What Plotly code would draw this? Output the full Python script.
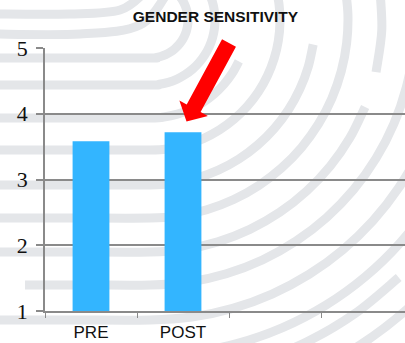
import math
import plotly.graph_objects as go

# Survey scores
categories = ["PRE", "POST"]
scores = [3.58, 3.72]
spare_slots = [" ", "  "]          # empty category slots on the axis
y_ticks = [1, 2, 3, 4, 5]
chart_title = "GENDER SENSITIVITY"

W, H = 405, 343
L, R, T, B = 45, 0, 48, 32
PW, PH = W - L - R, H - T - B


def to_paper(x, y):
    return (x - L) / PW, (H - B - y) / PH


def spline_path(pts):
    """Catmull-Rom spline through pixel points, as an SVG path in paper units."""
    p = [to_paper(*q) for q in pts]
    p = [p[0]] + p + [p[-1]]
    d = "M %.4f %.4f" % p[1]
    for i in range(1, len(p) - 2):
        p0, p1, p2, p3 = p[i - 1], p[i], p[i + 1], p[i + 2]
        c1 = (p1[0] + (p2[0] - p0[0]) / 6, p1[1] + (p2[1] - p0[1]) / 6)
        c2 = (p2[0] - (p3[0] - p1[0]) / 6, p2[1] - (p3[1] - p1[1]) / 6)
        d += " C %.4f %.4f %.4f %.4f %.4f %.4f" % (c1 + c2 + p2)
    return d


# Fingerprint-style ridges: loops around a core, straight tails to the left
CX, CY = 150.0, 20.0


def ridge(r, a_from, a_to, tail_from=None):
    pts = []
    if tail_from is not None:
        pts += [(tail_from, CY + r), ((tail_from + CX) / 2, CY + r)]
    steps = max(2, int(abs(a_from - a_to) / 8))
    for k in range(steps + 1):
        a = math.radians(a_from + (a_to - a_from) * k / steps)
        pts.append((CX + r * math.cos(a), CY + r * math.sin(a)))
    return pts


ridges = [
    [(-10, 14), (70, 14), (120, 10), (145, -8)],
    [(-10, 34), (80, 34), (140, 25), (168, -8)],
    ridge(38, 90, -40, tail_from=-10),
    ridge(65, 90, -25, tail_from=-10),
    ridge(98, 90, 25, tail_from=-10),
    ridge(130, 90, -15, tail_from=-10),
    ridge(165, 90, 8.5, tail_from=-10),
    ridge(198, 90, -10, tail_from=-10),
    ridge(232, 90, 22, tail_from=-10),
    ridge(232, 13, -8),
    ridge(265, 90, -2, tail_from=25),
    ridge(300, 90, 10, tail_from=-10),
    ridge(335, 100, 25),
    ridge(358, 100, 46),
    ridge(387, 100, 40),
]

shapes = []
for pts in ridges:
    shapes.append(dict(type="path", xref="paper", yref="paper", layer="below",
                       path=spline_path(pts),
                       line=dict(color="#e4e6e9", width=9)))

# Red pointer arrow aimed at the POST bar
tail, tip = (229.0, 43.0), (186.5, 121.5)
dx, dy = tip[0] - tail[0], tip[1] - tail[1]
ln = (dx * dx + dy * dy) ** 0.5
ux, uy = dx / ln, dy / ln
nx, ny = -uy, ux
shaft_hw, head_hw, head_len = 7.9, 16.2, 15.0
bx, by = tip[0] - ux * head_len, tip[1] - uy * head_len
arrow_px = [
    (tail[0] + nx * shaft_hw, tail[1] + ny * shaft_hw),
    (bx + nx * shaft_hw, by + ny * shaft_hw),
    (bx + nx * head_hw, by + ny * head_hw),
    tip,
    (bx - nx * head_hw, by - ny * head_hw),
    (bx - nx * shaft_hw, by - ny * shaft_hw),
    (tail[0] - nx * shaft_hw, tail[1] - ny * shaft_hw),
]
arrow_path = "M " + " L ".join("%.4f %.4f" % to_paper(*q) for q in arrow_px) + " Z"
shapes.append(dict(type="path", xref="paper", yref="paper", layer="above",
                   path=arrow_path, fillcolor="#ff0000", line=dict(width=0)))

fig = go.Figure(go.Bar(
    x=categories, y=scores, width=0.4,
    marker=dict(color="#33b5ff", line=dict(width=0)),
    hoverinfo="skip",
))

fig.update_layout(
    width=W, height=H,
    margin=dict(l=L, r=R, t=T, b=B, pad=0),
    paper_bgcolor="white",
    plot_bgcolor="rgba(0,0,0,0)",
    showlegend=False,
    shapes=shapes,
    title=dict(text="<b>%s</b>" % chart_title, x=215.5 / W, xref="container",
               xanchor="center", y=1 - 17 / H, yref="container", yanchor="middle",
               font=dict(family="Liberation Sans, Arial", size=15.5, color="#111111")),
)

fig.update_xaxes(
    type="category",
    categoryorder="array", categoryarray=categories + spare_slots,
    range=[-0.5, -0.5 + PW / 92.0],
    tickson="boundaries", ticks="outside", ticklen=5, tickcolor="#8a8a8a",
    showgrid=False, showline=True, linecolor="#8a8a8a", linewidth=1.5,
    tickfont=dict(family="Liberation Sans, Arial", size=17, color="#111111"),
    ticklabelstandoff=5,
    zeroline=False,
)

fig.update_yaxes(
    range=[1, 5], tickvals=y_ticks,
    ticks="outside", ticklen=7, tickcolor="#8a8a8a", tickwidth=1.5,
    showgrid=True, gridcolor="#8a8a8a", gridwidth=1.5,
    showline=True, linecolor="#8a8a8a", linewidth=1.5,
    tickfont=dict(family="Liberation Serif, Times New Roman", size=22, color="#111111"),
    ticklabelstandoff=4,
    zeroline=False,
)

fig.write_html("out.html")
